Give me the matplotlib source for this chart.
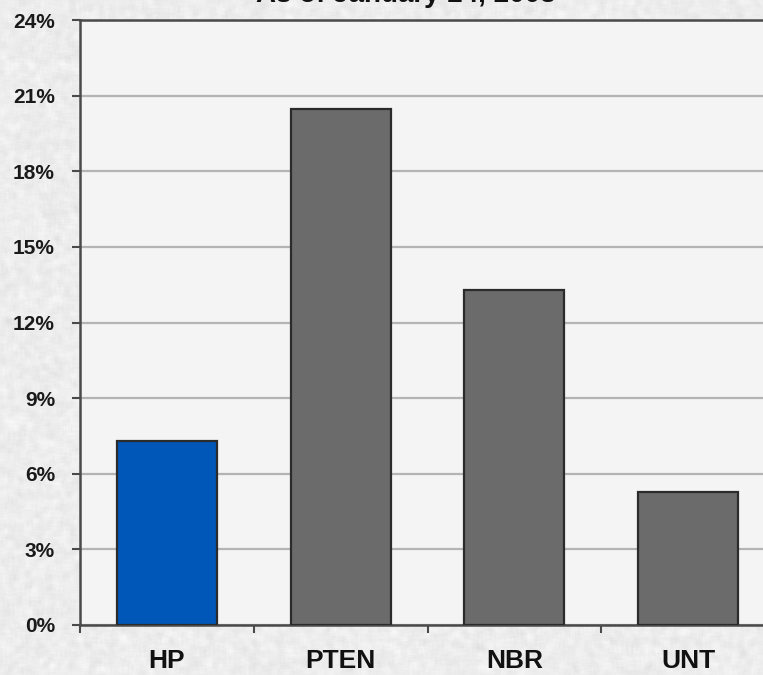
import numpy as np
import matplotlib
matplotlib.use("Agg")
import matplotlib.pyplot as plt
from matplotlib.ticker import FixedLocator, PercentFormatter

# Data
categories = ["HP", "PTEN", "NBR", "UNT"]
values = [7.3, 20.45, 13.27, 5.28]
bar_colors = ["#0057b8", "#6b6b6b", "#6b6b6b", "#6b6b6b"]
y_ticks = [0, 3, 6, 9, 12, 15, 18, 21, 24]
title = "As of January 24, 2008"

plt.rcParams["font.family"] = ["Liberation Sans", "DejaVu Sans"]

W, H, DPI = 763, 675, 100
fig = plt.figure(figsize=(W / DPI, H / DPI), dpi=DPI)
fig.patch.set_facecolor("#ededed")

# soft paper-like texture behind everything
rng = np.random.default_rng(7)
noise = rng.normal(0, 1, (H, W))
k = np.ones(7) / 7
noise = np.apply_along_axis(lambda r: np.convolve(r, k, mode="same"), 1, noise)
noise = np.apply_along_axis(lambda c: np.convolve(c, k, mode="same"), 0, noise)
tex = 0.93 + 0.012 * noise / noise.std()
tex = np.clip(tex, 0, 1)
fig.figimage(np.dstack([tex, tex, tex]), xo=0, yo=0, zorder=-10)

left_px, right_px, top_px, bot_px = 80, 775, 20, 625
ax = fig.add_axes([left_px / W, 1 - bot_px / H,
                   (right_px - left_px) / W, (bot_px - top_px) / H])
ax.set_facecolor("#f4f4f4")

x = np.arange(len(categories))
ax.bar(x, values, width=0.576, color=bar_colors, edgecolor="#2b2b2b",
       linewidth=1.6, zorder=3)

ax.set_xlim(-0.5, len(categories) - 0.5)
ax.set_ylim(0, 24)
ax.yaxis.set_major_locator(FixedLocator(y_ticks))
ax.yaxis.set_major_formatter(PercentFormatter(decimals=0))
ax.grid(axis="y", color="#b4b4b4", linewidth=1.6, zorder=0)

ax.set_xticks(x)
ax.set_xticklabels(categories)
ax.set_xticks(np.arange(len(categories) + 1) - 0.5, minor=True)
ax.tick_params(axis="x", which="major", length=0, pad=17,
               labelsize=19, labelcolor="#111111")
ax.tick_params(axis="x", which="minor", length=6, width=1.5,
               color="#4a4a4a", direction="out")
ax.tick_params(axis="y", length=6, width=1.5, color="#4a4a4a",
               direction="out", pad=12, labelsize=15, labelcolor="#1a1a1a")
for lab in ax.get_xticklabels() + ax.get_yticklabels():
    lab.set_fontweight("bold")

for side in ["left", "bottom", "top"]:
    ax.spines[side].set_color("#4a4a4a")
    ax.spines[side].set_linewidth(1.8)
ax.spines["right"].set_visible(False)

fig.text(406 / W, 1 - 2 / H, title, ha="center", va="baseline",
         fontsize=20, fontweight="bold", color="#111111")

fig.savefig("out.png", dpi=DPI, facecolor=fig.get_facecolor())
